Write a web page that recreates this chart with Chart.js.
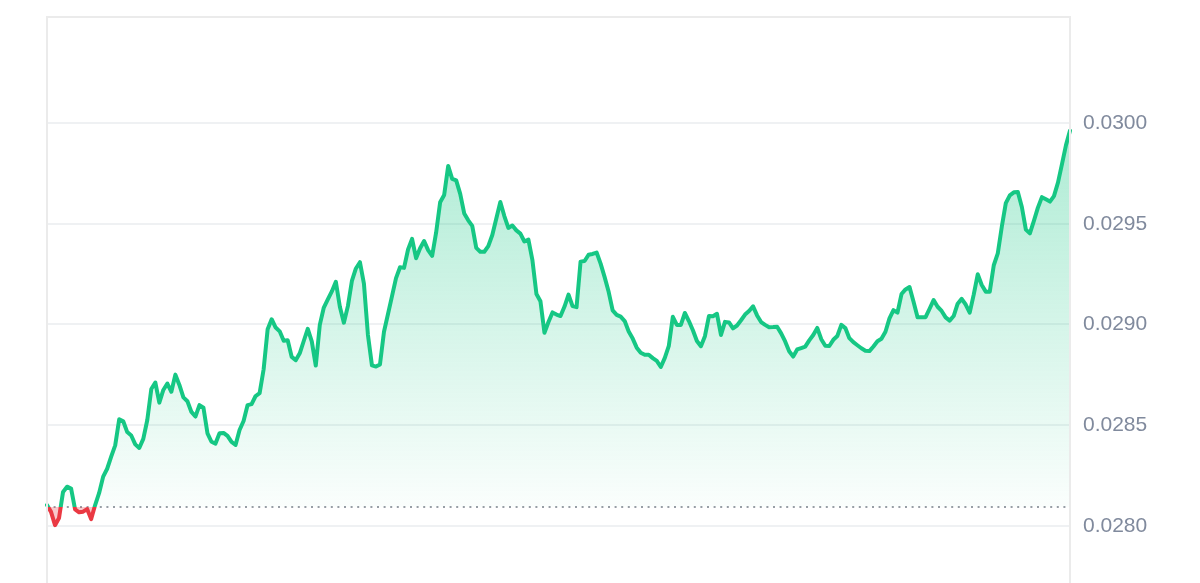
<!DOCTYPE html>
<html>
<head>
<meta charset="utf-8">
<script src="https://cdn.jsdelivr.net/npm/chart.js@4"></script>
<style>
  html, body { margin: 0; padding: 0; background: #fff; }
  #wrap { width: 1200px; height: 583px; }
</style>
</head>
<body>
<div id="wrap"><canvas id="priceChart"></canvas></div>
<script>
// price samples, oldest -> newest
const prices = [
  0.028104, 0.028070, 0.028004, 0.028040, 0.028169, 0.028195, 0.028186, 0.028082,
  0.028068, 0.028071, 0.028084, 0.028034, 0.028104, 0.028164, 0.028245, 0.028284,
  0.028344, 0.028400, 0.028530, 0.028520, 0.028466, 0.028449, 0.028405, 0.028387,
  0.028432, 0.028526, 0.028680, 0.028712, 0.028612, 0.028675, 0.028707, 0.028666,
  0.028751, 0.028700, 0.028638, 0.028619, 0.028566, 0.028543, 0.028600, 0.028587,
  0.028460, 0.028418, 0.028409, 0.028460, 0.028462, 0.028447, 0.028417, 0.028402,
  0.028476, 0.028521, 0.028600, 0.028605, 0.028645, 0.028659, 0.028778, 0.028976,
  0.029026, 0.028985, 0.028966, 0.028919, 0.028922, 0.028839, 0.028823, 0.028857,
  0.028918, 0.028978, 0.028916, 0.028796, 0.028998, 0.029084, 0.029125, 0.029164,
  0.029212, 0.029088, 0.029009, 0.029091, 0.029216, 0.029278, 0.029309, 0.029203,
  0.028948, 0.028797, 0.028791, 0.028802, 0.028964, 0.029052, 0.029141, 0.029230,
  0.029284, 0.029281, 0.029372, 0.029425, 0.029329, 0.029378, 0.029414, 0.029369,
  0.029340, 0.029457, 0.029607, 0.029643, 0.029787, 0.029723, 0.029715, 0.029648,
  0.029551, 0.029517, 0.029489, 0.029380, 0.029361, 0.029361, 0.029389, 0.029444,
  0.029526, 0.029608, 0.029538, 0.029479, 0.029491, 0.029467, 0.029451, 0.029412,
  0.029421, 0.029319, 0.029151, 0.029115, 0.028959, 0.029012, 0.029060, 0.029049,
  0.029042, 0.029089, 0.029148, 0.029091, 0.029086, 0.029312, 0.029315, 0.029346,
  0.029350, 0.029357, 0.029302, 0.029235, 0.029162, 0.029070, 0.029048, 0.029039,
  0.029017, 0.028965, 0.028930, 0.028885, 0.028860, 0.028850, 0.028850, 0.028833,
  0.028819, 0.028789, 0.028834, 0.028894, 0.029038, 0.028998, 0.028998, 0.029057,
  0.029017, 0.028971, 0.028918, 0.028892, 0.028942, 0.029042, 0.029041, 0.029053,
  0.028948, 0.029013, 0.029010, 0.028981, 0.028995, 0.029021, 0.029049, 0.029067,
  0.029090, 0.029045, 0.029012, 0.028998, 0.028986, 0.028987, 0.028989, 0.028956,
  0.028916, 0.028867, 0.028841, 0.028876, 0.028883, 0.028890, 0.028921, 0.028948,
  0.028983, 0.028927, 0.028894, 0.028893, 0.028924, 0.028943, 0.028998, 0.028982,
  0.028932, 0.028912, 0.028897, 0.028882, 0.028870, 0.028868, 0.028891, 0.028917,
  0.028929, 0.028964, 0.029030, 0.029071, 0.029059, 0.029151, 0.029174, 0.029186,
  0.029113, 0.029036, 0.029036, 0.029036, 0.029078, 0.029121, 0.029088, 0.029067,
  0.029035, 0.029019, 0.029042, 0.029103, 0.029127, 0.029099, 0.029059, 0.029148,
  0.029249, 0.029196, 0.029163, 0.029163, 0.029294, 0.029353, 0.029485, 0.029602,
  0.029641, 0.029656, 0.029657, 0.029583, 0.029471, 0.029452, 0.029514, 0.029580,
  0.029632, 0.029621, 0.029610, 0.029637, 0.029704, 0.029796, 0.029890, 0.029962
];
const labels = prices.map((p, i) => i);
const baseline = 0.028094;
const tickValues = [0.0280, 0.0285, 0.0290, 0.0295, 0.0300];

const up = '#16c784';
const down = '#ea3943';

function lineColor(ctx){
  const {chart} = ctx;
  const area = chart.chartArea;
  if (!area) return up;
  const y0 = chart.scales.y.getPixelForValue(baseline);
  const f = Math.min(Math.max((y0 - area.top) / (area.bottom - area.top), 0), 1);
  const g = chart.ctx.createLinearGradient(0, area.top, 0, area.bottom);
  g.addColorStop(0, up);
  g.addColorStop(f, up);
  g.addColorStop(f, down);
  g.addColorStop(1, down);
  return g;
}

function fillAbove(ctx){
  const {chart} = ctx;
  const area = chart.chartArea;
  if (!area) return 'rgba(22,199,132,0.2)';
  const y0 = chart.scales.y.getPixelForValue(baseline);
  const g = chart.ctx.createLinearGradient(0, area.top, 0, y0);
  g.addColorStop(0, 'rgba(22,199,132,0.45)');
  g.addColorStop(1, 'rgba(22,199,132,0.02)');
  return g;
}

// frame + dotted baseline
const framePlugin = {
  id: 'frame',
  beforeDatasetsDraw(chart){
    const {ctx, chartArea: a} = chart;
    const y0 = chart.scales.y.getPixelForValue(baseline);
    ctx.save();
    ctx.strokeStyle = '#999ea6';
    ctx.lineWidth = 2;
    ctx.setLineDash([2, 4.6]);
    ctx.beginPath();
    ctx.moveTo(a.left, y0);
    ctx.lineTo(a.right, y0);
    ctx.stroke();
    ctx.restore();
  },
  afterDraw(chart){
    const {ctx, chartArea: a} = chart;
    ctx.save();
    ctx.strokeStyle = '#ebebeb';
    ctx.lineWidth = 2;
    ctx.beginPath();
    ctx.moveTo(a.left, a.bottom);
    ctx.lineTo(a.left, a.top);
    ctx.lineTo(a.right, a.top);
    ctx.lineTo(a.right, a.bottom);
    ctx.stroke();
    ctx.restore();
  }
};

new Chart('priceChart', {
  type: 'line',
  data: {
    labels: labels,
    datasets: [{
      data: prices,
      borderColor: lineColor,
      borderWidth: 4,
      borderJoinStyle: 'round',
      borderCapStyle: 'round',
      pointRadius: 0,
      tension: 0,
      fill: {
        target: {value: baseline},
        above: fillAbove,
        below: 'rgba(234,57,67,0.28)'
      }
    }]
  },
  options: {
    responsive: true,
    maintainAspectRatio: false,
    animation: false,
    layout: {padding: {left: 47, top: 17, right: 0, bottom: 0}},
    plugins: {legend: {display: false}, tooltip: {enabled: false}},
    scales: {
      x: {display: false, offset: false},
      y: {
        position: 'right',
        min: 0.027717,
        max: 0.030526,
        afterBuildTicks: (s) => { s.ticks = tickValues.map(v => ({value: v})); },
        afterFit: (s) => { s.width = 130; s.paddingTop = 0; s.paddingBottom = 0; },
        border: {display: false},
        grid: {color: '#eff1f3', lineWidth: 2, drawTicks: false},
        ticks: {
          padding: 13,
          color: '#808a9d',
          font: {family: 'Liberation Sans', size: 21},
          callback: (v) => Number(v).toFixed(4)
        }
      }
    }
  },
  plugins: [framePlugin]
});
</script>
</body>
</html>
